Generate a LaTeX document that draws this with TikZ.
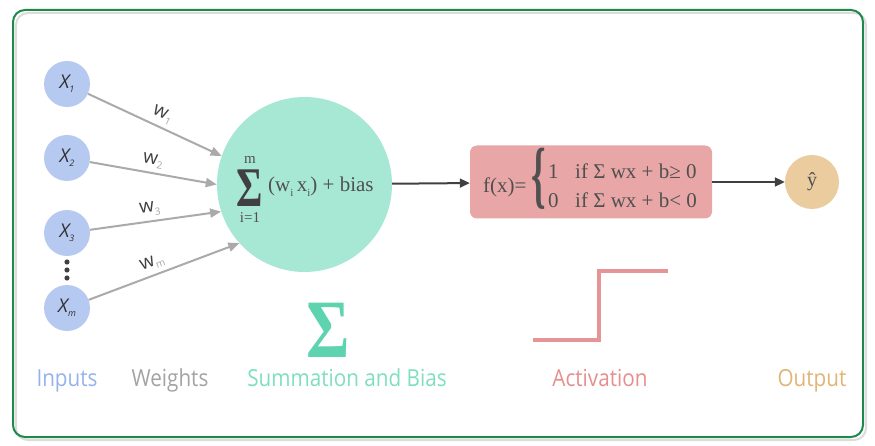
\documentclass[tikz,border=0pt]{standalone}
\usepackage{fontspec}
\setmainfont{Liberation Serif}
\newfontfamily\osans{Open Sans}
\newfontfamily\osanslab[FakeStretch=0.88]{Open Sans}
\usetikzlibrary{arrows.meta}
\definecolor{incol}{RGB}{181,201,241}
\definecolor{intext}{RGB}{150,178,238}
\definecolor{wtext}{RGB}{163,163,163}
\definecolor{sumcol}{RGB}{167,232,213}
\definecolor{sumtext}{RGB}{126,223,192}
\definecolor{bigsig}{RGB}{94,211,175}
\definecolor{actcol}{RGB}{232,166,166}
\definecolor{acttext}{RGB}{230,142,142}
\definecolor{stepcol}{RGB}{229,149,149}
\definecolor{outcol}{RGB}{235,204,158}
\definecolor{outtext}{RGB}{224,181,119}
\definecolor{arrgray}{RGB}{170,170,170}
\definecolor{darkarr}{RGB}{64,64,64}
\definecolor{xtext}{RGB}{50,50,50}
\definecolor{subgray}{RGB}{165,165,165}
\definecolor{frgreen}{RGB}{30,138,74}
\definecolor{shadowcol}{RGB}{220,220,220}
\definecolor{formcol}{RGB}{80,80,80}
\begin{document}
\begin{tikzpicture}[x=1pt,y=-1pt,
  inputnode/.style={circle, fill=incol, minimum size=46pt, inner sep=0pt,
    font=\osans\itshape\fontsize{19}{19}\selectfont, text=xtext},
  wedge/.style={draw=arrgray, line width=2pt, -{Triangle[length=11pt,width=9pt]}},
  wlabel/.style={sloped, above=3pt, inner sep=1pt, font=\osans\fontsize{19}{19}\selectfont, text=darkarr},
  darrow/.style={draw=darkarr, line width=2pt, -{Triangle[length=10pt,width=9pt]}},
  caption/.style={anchor=base, inner sep=0pt, font=\osanslab\fontsize{23.5}{23.5}\selectfont},
  formtext/.style={anchor=base west, inner sep=0pt, text=formcol, font=\fontsize{21}{21}\selectfont},
  dotnode/.style={circle, fill=darkarr, minimum size=5.2pt, inner sep=0pt}]
\useasboundingbox (0,0) rectangle (875,446);
% frame
\draw[shadowcol, line width=2pt, rounded corners=12pt] (16,13) rectangle (866,440);
\draw[frgreen, line width=2pt, rounded corners=12pt] (13,10) rectangle (863,437);
% inputs
\node[inputnode] (x1) at (67,84) {X\raisebox{-4pt}{\fontsize{9}{9}\selectfont 1}};
\node[inputnode] (x2) at (67,158) {X\raisebox{-4pt}{\fontsize{9}{9}\selectfont 2}};
\node[inputnode] (x3) at (67,233) {X\raisebox{-4pt}{\fontsize{9}{9}\selectfont 3}};
\node[inputnode] (xm) at (67,308) {X\raisebox{-4pt}{\fontsize{9}{9}\selectfont m}};
\node[dotnode] (d1) at (67,262) {};
\node[dotnode] (d2) at (67,270) {};
\node[dotnode] (d3) at (67,278) {};
% summation
\node[circle, fill=sumcol, minimum size=175pt, inner sep=0pt] (sum) at (304.5,184.5) {};
\node[anchor=base, inner sep=0pt, text=darkarr, font=\bfseries\fontsize{56}{56}\selectfont] (sig) at (249.5,207) {\scalebox{0.72}[1]{Σ}};
\node[anchor=base, inner sep=0pt, text=formcol, font=\fontsize{15}{15}\selectfont] (mm) at (250,164) {m};
\node[anchor=base, inner sep=0pt, text=formcol, font=\fontsize{15}{15}\selectfont] (ii) at (250,223) {i=1};
\node[anchor=base west, inner sep=0pt, text=formcol, font=\fontsize{21}{21}\selectfont] (form) at (268,192)
  {(w\raisebox{-5pt}{\fontsize{11}{11}\selectfont i}\,x\raisebox{-5pt}{\fontsize{11}{11}\selectfont i}) + bias};
% weights
\draw[wedge] (x1) -- (sum.161) node[wlabel, pos=0.52] (w1) {w\raisebox{-4pt}{\fontsize{10}{10}\selectfont\color{subgray}1}};
\draw[wedge] (x2) -- (sum.180) node[wlabel, pos=0.48] (w2) {w\raisebox{-4pt}{\fontsize{10}{10}\selectfont\color{subgray}2}};
\draw[wedge] (x3) -- (sum.198) node[wlabel, pos=0.47] (w3) {w\raisebox{-4pt}{\fontsize{10}{10}\selectfont\color{subgray}3}};
\draw[wedge] (xm) -- (sum.222) node[wlabel, pos=0.45] (wm) {w\raisebox{-4pt}{\fontsize{10}{10}\selectfont\color{subgray}m}};
% activation
\node[rectangle, rounded corners=7pt, fill=actcol, minimum width=242pt, minimum height=73pt, inner sep=0pt] (act) at (591,182) {};
\node[formtext] (fx) at (483,193) {f(x)=};
\node[anchor=base, inner sep=0pt, text=formcol] (brace) at (539,200) {\scalebox{0.5}[1]{\bfseries\fontsize{74}{74}\selectfont\{}};
\node[formtext] (one) at (548,179) {1};
\node[formtext] (r1) at (575,179) {if Σ wx + b≥ 0};
\node[formtext] (zero) at (548,208) {0};
\node[formtext] (r2) at (575,208) {if Σ wx + b< 0};
% output
\node[circle, fill=outcol, minimum size=54pt, inner sep=0pt, text=formcol, font=\fontsize{20}{20}\selectfont] (out) at (812,182) {ŷ};
% connectors
\draw[darrow] (sum) -- (act);
\draw[darrow] (act) -- (out);
% icons
\node[anchor=base, inner sep=0pt, text=bigsig, font=\bfseries\fontsize{83}{83}\selectfont] (bsig) at (328,357) {\scalebox{0.8}[1]{Σ}};
\draw[stepcol, line width=4pt, line join=miter] (533,340) -- (599,340) -- (599,271) -- (668,271);
% captions
\node[caption, text=intext] (capin) at (67,386.5) {Inputs};
\node[caption, text=wtext] (capw) at (170,386.5) {Weights};
\node[caption, text=sumtext] (caps) at (347,386.5) {Summation and Bias};
\node[caption, text=acttext] (capa) at (600,386.5) {Activation};
\node[caption, text=outtext] (capo) at (812,386.5) {Output};
\end{tikzpicture}
\end{document}
